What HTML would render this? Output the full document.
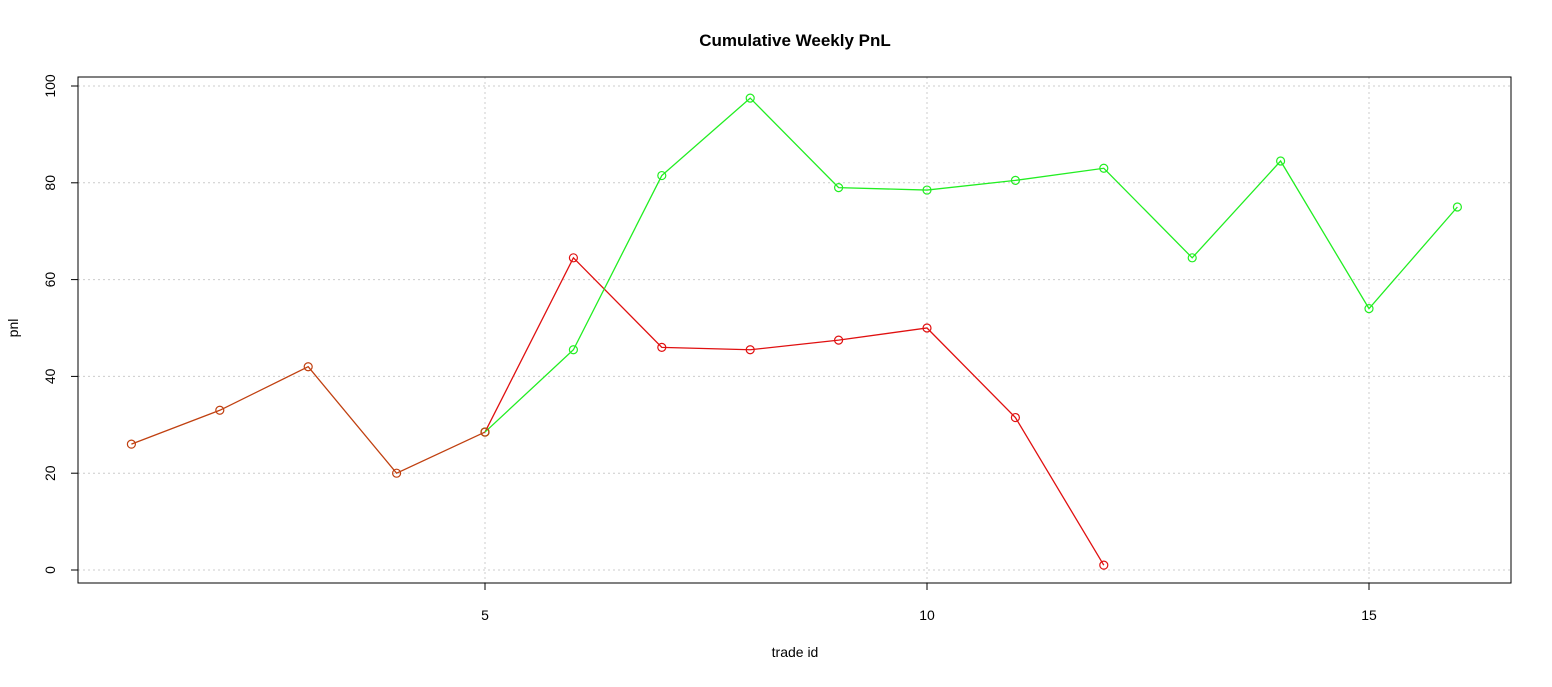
<!DOCTYPE html>
<html><head><meta charset="utf-8"><style>
html,body{margin:0;padding:0;background:#fff}
svg text{font-family:"Liberation Sans",sans-serif}
</style></head><body>
<svg id="chart" width="1552" height="682" xmlns="http://www.w3.org/2000/svg">
<text x="795" y="46" text-anchor="middle" font-size="17" font-weight="bold">Cumulative Weekly PnL</text>
<text x="795" y="657" text-anchor="middle" font-size="14">trade id</text>
<text transform="translate(18,328) rotate(-90)" text-anchor="middle" font-size="14">pnl</text>
<g id="grid"></g><g id="axes"></g><g id="series"></g>
<rect x="78" y="77" width="1433" height="506" fill="none" stroke="#000" stroke-width="1"/>
</svg>
<script>
const commonX=[1,2,3,4,5];
const commonY=[26,33,42,20,28.5];
const redX=[5,6,7,8,9,10,11,12];
const redY=[28.5,64.5,46,45.5,47.5,50,31.5,1];
const greenX=[5,6,7,8,9,10,11,12,13,14,15,16];
const greenY=[28.5,45.5,81.5,97.5,79,78.5,80.5,83,64.5,84.5,54,75];
const xTicks=[5,10,15];
const yTicks=[0,20,40,60,80,100];
const sx=v=>485+(v-5)*88.4;
const sy=v=>570-v*4.84;
const NS="http://www.w3.org/2000/svg";
function mk(t,a,p){const e=document.createElementNS(NS,t);for(const k in a)e.setAttribute(k,a[k]);p.appendChild(e);return e;}
const grid=document.getElementById('grid'),axes=document.getElementById('axes'),ser=document.getElementById('series');
xTicks.forEach(v=>{
 const g=mk('line',{x1:sx(v),x2:sx(v),y1:77,y2:583,stroke:'#ccc','stroke-dasharray':'2,3'},grid);
 
 
 const t=mk('line',{x1:sx(v),x2:sx(v),y1:583,y2:590,stroke:'#000'},axes);
 
 
 const l=mk('text',{x:sx(v),y:620,'text-anchor':'middle','font-size':14},axes);l.textContent=v;
 
 
});
yTicks.forEach(v=>{
 const g=mk('line',{x1:78,x2:1511,y1:sy(v),y2:sy(v),stroke:'#ccc','stroke-dasharray':'2,3'},grid);
 
 
 const t=mk('line',{x1:71,x2:78,y1:sy(v),y2:sy(v),stroke:'#000'},axes);
 
 
 const l=mk('text',{transform:`translate(55,${sy(v)}) rotate(-90)`,'text-anchor':'middle','font-size':14},axes);l.textContent=v;
 
 
});
function draw(xs,ys,col,name){
 const g=mk('g',{},ser);
 
 
 const p=mk('polyline',{points:xs.map((x,i)=>sx(x)+','+sy(ys[i])).join(' '),fill:'none',stroke:col,'stroke-width':1.3},g);
 
 
 xs.forEach((x,i)=>{const c=mk('circle',{cx:sx(x),cy:sy(ys[i]),r:4,fill:'none',stroke:col,'stroke-width':1.2},g);
  
  });
}
draw(redX,redY,'#e01010','red-series');
draw(greenX,greenY,'#22ee22','green-series');
draw(commonX,commonY,'#c04010','common-series');
</script>
</body></html>
